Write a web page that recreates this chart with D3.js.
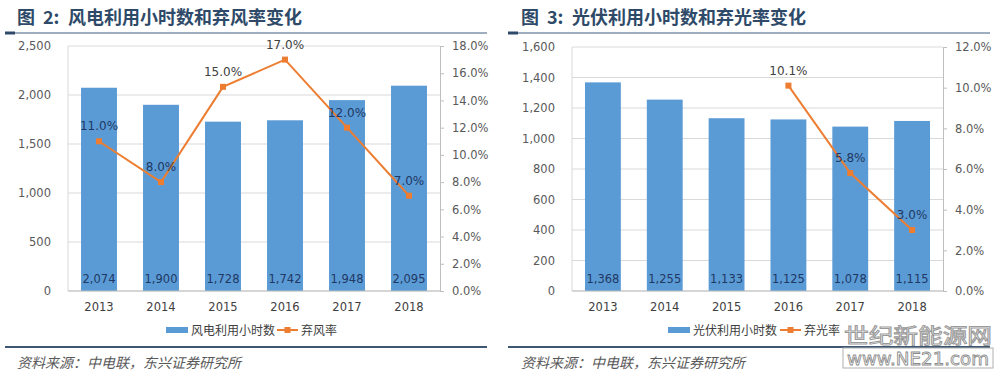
<!DOCTYPE html>
<html>
<head>
<meta charset="utf-8">
<script src="https://cdn.jsdelivr.net/npm/d3@7"></script>
<style>
  body { margin: 0; background: #fff; }
  svg { display: block; font-family: "Noto Sans CJK SC", "Noto Sans", sans-serif; }
</style>
</head>
<body>
<div id="chart"></div>
<script>
// data
const years = ['2013', '2014', '2015', '2016', '2017', '2018'];
const windHours = [2074, 1900, 1728, 1742, 1948, 2095];
const windCurtail = [11.0, 8.0, 15.0, 17.0, 12.0, 7.0];
const solarHours = [1368, 1255, 1133, 1125, 1078, 1115];
const solarCurtail = [null, null, null, 10.1, 5.8, 3.0];
const windLeftTicks = [0, 500, 1000, 1500, 2000, 2500];
const windRightTicks = [0, 2, 4, 6, 8, 10, 12, 14, 16, 18];
const solarLeftTicks = [0, 200, 400, 600, 800, 1000, 1200, 1400, 1600];
const solarRightTicks = [0, 2, 4, 6, 8, 10, 12];

const barColor = '#5b9bd5';
const lineColor = '#ed7d31';
const labelColor = '#1f3864';
const axisText = '#595959';

let svg = d3.select('#chart').append('svg')
    .attr('width', 1000)
    .attr('height', 375);

function drawPanel(cfg) {
    let g = svg.append('g');

    // title + rule under it
    let title = g.append('g')
        .attr('font-size', 18).attr('font-weight', 'bold')
        .attr('fill', '#2e4a68');
    title.append('text').attr('x', cfg.titleX).attr('y', 24).text('图');
    title.append('text').attr('x', cfg.titleX + 26).attr('y', 24).text(cfg.figNo + ':');
    title.append('text').attr('x', cfg.titleX + 51).attr('y', 24).text(cfg.title);
    g.append('line')
        .attr('x1', cfg.ruleX0).attr('x2', cfg.ruleX1)
        .attr('y1', 33).attr('y2', 33)
        .attr('stroke', '#7f93a8').attr('stroke-width', 1.5);
    g.append('line')
        .attr('x1', cfg.ruleX0).attr('x2', cfg.ruleX0 + 10)
        .attr('y1', 33).attr('y2', 33)
        .attr('stroke', '#2e4a68').attr('stroke-width', 3);

    let x = d3.scaleBand().domain(years)
        .range([cfg.left, cfg.right])
        .paddingInner(0.42).paddingOuter(0.21);
    let y = d3.scaleLinear()
        .domain([0, d3.max(cfg.leftTicks)])
        .range([cfg.bottom, cfg.top]);
    let y2 = d3.scaleLinear()
        .domain([0, d3.max(cfg.rightTicks)])
        .range([cfg.bottom, cfg.top]);

    // grid lines
    g.append('g').selectAll('line')
        .data(cfg.leftTicks)
        .join('line')
        .attr('x1', cfg.left).attr('x2', cfg.right)
        .attr('y1', d => y(d)).attr('y2', d => y(d))
        .attr('stroke', '#d9d9d9').attr('stroke-width', 1);
    g.append('line')
        .attr('x1', cfg.left).attr('x2', cfg.left)
        .attr('y1', cfg.top).attr('y2', cfg.bottom)
        .attr('stroke', '#d9d9d9');

    // left axis
    let leftAxis = g.append('g')
        .attr('transform', `translate(${cfg.left - 14},0)`)
        .call(d3.axisLeft(y).tickValues(cfg.leftTicks).tickSize(0).tickFormat(d3.format(',')));
    leftAxis.select('.domain').remove();
    leftAxis.selectAll('text')
        .attr('font-size', 11.5).attr('fill', axisText)
        .style('font-family', '"DejaVu Sans", sans-serif');

    // right axis
    let rightAxis = g.append('g')
        .attr('transform', `translate(${cfg.right},0)`)
        .call(d3.axisRight(y2).tickValues(cfg.rightTicks).tickSize(4).tickPadding(8)
            .tickFormat(d => d.toFixed(1) + '%'));
    rightAxis.select('.domain').attr('stroke', '#bfbfbf');
    rightAxis.selectAll('.tick line').attr('stroke', '#bfbfbf');
    rightAxis.selectAll('text')
        .attr('font-size', 11.5).attr('fill', axisText)
        .style('font-family', '"DejaVu Sans", sans-serif');

    // bars
    g.append('g').selectAll('rect')
        .data(cfg.hours)
        .join('rect')
        .attr('x', (d, i) => x(years[i]))
        .attr('width', x.bandwidth())
        .attr('y', d => y(d))
        .attr('height', d => cfg.bottom - y(d))
        .attr('fill', barColor);

    g.append('g').selectAll('text')
        .data(cfg.hours)
        .join('text')
        .attr('x', (d, i) => x(years[i]) + x.bandwidth() / 2)
        .attr('y', cfg.bottom - 8)
        .attr('text-anchor', 'middle')
        .attr('font-size', 11.5)
        .attr('fill', labelColor)
        .style('font-family', '"DejaVu Sans", sans-serif')
        .text(d => d3.format(',')(d));

    // bottom axis line
    g.append('line')
        .attr('x1', cfg.left).attr('x2', cfg.right)
        .attr('y1', cfg.bottom).attr('y2', cfg.bottom)
        .attr('stroke', '#bfbfbf');

    // x labels
    g.append('g').selectAll('text')
        .data(years)
        .join('text')
        .attr('x', d => x(d) + x.bandwidth() / 2)
        .attr('y', cfg.bottom + 20)
        .attr('text-anchor', 'middle')
        .attr('font-size', 11.5)
        .attr('fill', '#404040')
        .style('font-family', '"DejaVu Sans", sans-serif')
        .text(d => d);

    // rate line
    let pts = cfg.rates.map((v, i) => ({ year: years[i], v: v })).filter(p => p.v !== null);
    let line = d3.line()
        .x(p => x(p.year) + x.bandwidth() / 2)
        .y(p => y2(p.v));
    g.append('path')
        .attr('d', line(pts))
        .attr('fill', 'none')
        .attr('stroke', lineColor)
        .attr('stroke-width', 2);
    g.append('g').selectAll('rect')
        .data(pts)
        .join('rect')
        .attr('x', p => x(p.year) + x.bandwidth() / 2 - 3)
        .attr('y', p => y2(p.v) - 3)
        .attr('width', 6).attr('height', 6)
        .attr('fill', lineColor);
    g.append('g').selectAll('text')
        .data(pts)
        .join('text')
        .attr('x', p => x(p.year) + x.bandwidth() / 2)
        .attr('y', p => y2(p.v) - 11)
        .attr('text-anchor', 'middle')
        .attr('font-size', 12)
        .attr('fill', p => y2(p.v) - 16 > y(cfg.hours[years.indexOf(p.year)]) ? labelColor : '#404040')
        .style('font-family', '"DejaVu Sans", sans-serif')
        .text(p => p.v.toFixed(1) + '%');

    // legend
    let lg = g.append('g').attr('transform', `translate(${cfg.legendX},330)`);
    lg.append('rect').attr('x', 0).attr('y', -3).attr('width', 22).attr('height', 6).attr('fill', barColor);
    lg.append('text').attr('x', 25).attr('y', 4.5)
        .attr('font-size', 12).attr('fill', '#404040')
        .text(cfg.barName);
    let lx = cfg.lineLegendOffset;
    lg.append('line').attr('x1', lx).attr('x2', lx + 21).attr('y1', 0).attr('y2', 0)
        .attr('stroke', lineColor).attr('stroke-width', 2);
    lg.append('rect').attr('x', lx + 7.5).attr('y', -3).attr('width', 6).attr('height', 6).attr('fill', lineColor);
    lg.append('text').attr('x', lx + 24).attr('y', 4.5)
        .attr('font-size', 12).attr('fill', '#404040')
        .text(cfg.lineName);

    // footer
    g.append('line')
        .attr('x1', cfg.ruleX0).attr('x2', cfg.ruleX1)
        .attr('y1', 347).attr('y2', 347)
        .attr('stroke', '#3e5874').attr('stroke-width', 2);
    g.append('text')
        .attr('x', cfg.titleX).attr('y', 368)
        .attr('font-size', 14).attr('font-style', 'italic')
        .attr('fill', '#595959')
        .text('资料来源：中电联，东兴证券研究所');
}

drawPanel({
    figNo: '2', title: '风电利用小时数和弃风率变化',
    titleX: 17, ruleX0: 5, ruleX1: 487,
    left: 68, right: 440, top: 46, bottom: 291,
    leftTicks: windLeftTicks, rightTicks: windRightTicks,
    hours: windHours, rates: windCurtail,
    legendX: 166, lineLegendOffset: 111,
    barName: '风电利用小时数', lineName: '弃风率'
});

drawPanel({
    figNo: '3', title: '光伏利用小时数和弃光率变化',
    titleX: 521, ruleX0: 508, ruleX1: 990,
    left: 572, right: 943, top: 47, bottom: 291,
    leftTicks: solarLeftTicks, rightTicks: solarRightTicks,
    hours: solarHours, rates: solarCurtail,
    legendX: 668, lineLegendOffset: 112,
    barName: '光伏利用小时数', lineName: '弃光率'
});

// watermark
let wm = svg.append('g');
wm.append('text')
    .attr('x', 844).attr('y', 343)
    .attr('textLength', 148).attr('lengthAdjust', 'spacingAndGlyphs')
    .attr('font-size', 21)
    .attr('fill', '#ffffff').attr('stroke', '#9a9a9a').attr('stroke-width', 1)
    .text('世纪新能源网');
wm.append('rect')
    .attr('x', 843).attr('y', 348).attr('width', 150).attr('height', 20)
    .attr('fill', '#ffffff').attr('stroke', '#b0b0b0');
wm.append('text')
    .attr('x', 847).attr('y', 365)
    .attr('textLength', 142).attr('lengthAdjust', 'spacingAndGlyphs')
    .attr('font-size', 17)
    .attr('fill', '#ffffff').attr('stroke', '#8a8a8a').attr('stroke-width', 0.8)
    .style('font-family', '"DejaVu Sans", sans-serif')
    .text('www.NE21.com');
</script>
</body>
</html>
